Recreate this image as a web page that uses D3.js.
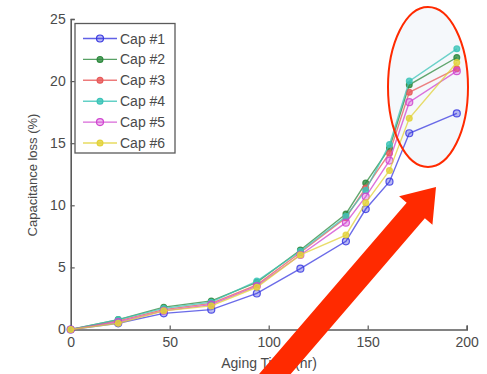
<!DOCTYPE html>
<html><head><meta charset="utf-8">
<script src="https://cdn.jsdelivr.net/npm/d3@7"></script>
<style>body{margin:0;background:#fff}svg{display:block}</style>
</head><body>
<svg id="c" width="487" height="374"></svg>
<script>
const times = [0, 24, 47, 71, 94, 116, 139, 149, 161, 171, 195];
const cap1 = [0, 0.5, 1.3, 1.6, 2.9, 4.9, 7.1, 9.7, 11.9, 15.8, 17.4];
const cap2 = [0, 0.8, 1.8, 2.3, 3.8, 6.4, 9.3, 11.8, 14.6, 19.7, 21.9];
const cap3 = [0, 0.7, 1.6, 2.1, 3.6, 6.2, 9.0, 11.4, 14.2, 19.1, 21.0];
const cap4 = [0, 0.8, 1.7, 2.2, 3.9, 6.3, 9.1, 11.2, 14.9, 20.0, 22.6];
const cap5 = [0, 0.6, 1.5, 2.0, 3.5, 6.0, 8.6, 10.7, 13.6, 18.3, 20.8];
const cap6 = [0, 0.5, 1.5, 1.9, 3.4, 6.0, 7.6, 10.2, 12.8, 17.0, 21.5];
const seriesNames = ["Cap #1", "Cap #2", "Cap #3", "Cap #4", "Cap #5", "Cap #6"];
const xTicks = [0, 50, 100, 150, 200];
const yTicks = [0, 5, 10, 15, 20, 25];
const xLabel = "Aging Time (hr)";
const yLabel = "Capacitance loss (%)";

const colors = ["#3a3ae0", "#2e8a3e", "#e85a5a", "#3cc4b8", "#d044d0", "#e2d23a"];
const markers = ["ring", "dot", "dot", "dot", "ring", "dot"];
const allSeries = [cap1, cap2, cap3, cap4, cap5, cap6];

const svg = d3.select("#c");
const font = "'Liberation Sans', Arial, sans-serif";
const x = d3.scaleLinear().domain([0, 200]).range([70.7, 466.7]);
const y = d3.scaleLinear().domain([0, 25]).range([329.5, 19]);

// ellipse fill (beneath data)
svg.append("ellipse").attr("cx", 428).attr("cy", 87).attr("rx", 40).attr("ry", 80)
  .attr("fill", "#f5f8fb").attr("stroke", "none");

// axes
const gx = svg.append("g").attr("transform", `translate(0,${y(0)})`)
  .call(d3.axisBottom(x).tickValues(xTicks).tickSize(-4).tickPadding(8));
const gy = svg.append("g").attr("transform", `translate(${x(0)},0)`)
  .call(d3.axisLeft(y).tickValues(yTicks).tickSize(-4).tickPadding(7));
[gx, gy].forEach(g => {
  g.select(".domain").attr("stroke", "#5a5a5a").attr("stroke-width", 1.6);
  g.selectAll(".tick line").attr("stroke", "#5a5a5a").attr("stroke-width", 1.2);
  g.selectAll(".tick text").attr("fill", "#4a4a4a").attr("font-family", font).attr("font-size", 14);
});
gy.selectAll(".tick text").attr("dx", 2);

// data
const line = d3.line().x((d, i) => x(times[i])).y(d => y(d));
allSeries.forEach((s, k) => {
  const g = svg.append("g");
  g.append("path").datum(s).attr("d", line).attr("fill", "none")
    .attr("stroke", colors[k]).attr("stroke-width", 1.4).attr("stroke-opacity", 0.75);
  g.selectAll("circle").data(s).join("circle")
    .attr("cx", (d, i) => x(times[i])).attr("cy", d => y(d))
    .attr("r", markers[k] === "ring" ? 3.5 : 2.9)
    .attr("fill", colors[k]).attr("fill-opacity", markers[k] === "ring" ? 0.35 : 0.8)
    .attr("stroke", colors[k]).attr("stroke-width", 1.2).attr("stroke-opacity", 0.85);
});

// legend
const lg = svg.append("g");
lg.append("rect").attr("x", 75).attr("y", 23.5).attr("width", 100).attr("height", 129.5)
  .attr("fill", "#fff").attr("stroke", "#5a5a5a").attr("stroke-width", 1.3);
seriesNames.forEach((n, k) => {
  const yy = 38.5 + k * 20.9;
  lg.append("line").attr("x1", 83).attr("x2", 117).attr("y1", yy).attr("y2", yy)
    .attr("stroke", colors[k]).attr("stroke-width", 1.4).attr("stroke-opacity", 0.8);
  lg.append("circle").attr("cx", 100).attr("cy", yy)
    .attr("r", markers[k] === "ring" ? 3.5 : 2.9)
    .attr("fill", colors[k]).attr("fill-opacity", markers[k] === "ring" ? 0.35 : 0.8)
    .attr("stroke", colors[k]).attr("stroke-width", 1.2);
  lg.append("text").attr("x", 120).attr("y", yy + 5).text(n)
    .attr("font-family", font).attr("font-size", 14).attr("fill", "#4a4a4a");
});

// axis labels
svg.append("text").attr("x", 269).attr("y", 368).attr("text-anchor", "middle")
  .attr("font-family", font).attr("font-size", 14).attr("fill", "#4a4a4a").text(xLabel);
svg.append("text").attr("transform", "translate(37,175) rotate(-90)").attr("text-anchor", "middle")
  .attr("font-family", font).attr("font-size", 13).attr("fill", "#4a4a4a").text(yLabel);

// ellipse outline
svg.append("ellipse").attr("cx", 428).attr("cy", 87).attr("rx", 40).attr("ry", 80)
  .attr("fill", "none").attr("stroke", "#ff2a00").attr("stroke-width", 2);

// arrow
const T = [268, 382], P = [436, 187];
const dx = P[0] - T[0], dy = P[1] - T[1], L = Math.hypot(dx, dy);
const u = [dx / L, dy / L], n = [-u[1], u[0]];
const hl = 31, hh = 22, sh = 12;
const B = [P[0] - u[0] * hl, P[1] - u[1] * hl];
const pt = (p, v, s) => [p[0] + v[0] * s, p[1] + v[1] * s];
const poly = [pt(T, n, sh), pt(B, n, sh), pt(B, n, hh), P, pt(B, n, -hh), pt(B, n, -sh), pt(T, n, -sh)];
svg.append("polygon").attr("points", poly.map(p => p.join(",")).join(" ")).attr("fill", "#ff2a00");
</script>
</body></html>
